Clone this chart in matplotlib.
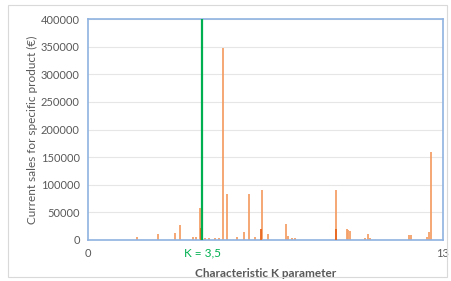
import matplotlib
matplotlib.use("Agg")
import matplotlib.pyplot as plt
from matplotlib.patches import Rectangle

plt.rcParams['font.family'] = ['Lato', 'DejaVu Sans']

# Data
k_values = [1.79, 2.56, 3.19, 3.37, 3.85, 3.96, 4.10, 4.29, 4.43, 4.65, 4.80,
            4.95, 5.09, 5.46, 5.71, 5.90, 6.12, 6.37, 6.59, 7.25, 7.33, 7.47,
            7.58, 9.08, 9.49, 9.52, 9.60, 10.15, 10.26, 10.33, 11.76, 11.83,
            12.42, 12.49, 12.56]
sales = [5000, 10000, 12000, 27000, 5000, 5000, 58000, 4000, 4000, 4000, 4000,
         347000, 83000, 5000, 14000, 84000, 6000, 90000, 10000, 29000, 8000, 4000,
         3000, 91000, 20000, 18000, 16000, 3000, 10000, 4000, 9000, 9000,
         6000, 14000, 159000]
dark_k = [4.14, 6.34, 9.10]
dark_sales = [22000, 20000, 20000]
k_threshold = 4.18
threshold_label = "K = 3,5"
y_ticks = [0, 50000, 100000, 150000, 200000, 250000, 300000, 350000, 400000]
x_ticks = [0, 13]

fig = plt.figure(figsize=(4.52, 2.81), dpi=100)
fig.patches.append(Rectangle((0.018, 0.015), 0.972, 0.968, transform=fig.transFigure,
                             fill=False, edgecolor='#D9D9D9', linewidth=0.8))
ax = fig.add_axes([0.1947, 0.146, 0.7853, 0.786])

ax.vlines(k_values, 0, sales, color='#F4A069', linewidth=1.3, zorder=2)
ax.vlines(dark_k, 0, dark_sales, color='#E8661E', linewidth=1.3, zorder=3)
ax.axvline(k_threshold, color='#00B050', linewidth=1.6, zorder=4)

ax.set_xlim(0, 13)
ax.set_ylim(0, 400000)
ax.set_yticks(y_ticks)
ax.set_yticklabels([str(v) for v in y_ticks])
ax.set_xticks(x_ticks)
ax.set_xticklabels([str(v) for v in x_ticks])
ax.tick_params(length=0, labelsize=8, colors='#595959', pad=6)
ax.grid(axis='y', color='#E6E6E6', linewidth=0.8, zorder=0)
ax.set_axisbelow(True)
for s in ax.spines.values():
    s.set_color('#8FB3E0')
    s.set_linewidth(1.2)

ax.set_ylabel("Current sales for specific product (€)", fontsize=8.5, color='#595959', labelpad=2)
ax.set_xlabel("Characteristic K parameter", fontsize=8.5, color='#595959',
              fontweight='bold', labelpad=6)
ax.text(k_threshold, -0.032, threshold_label, transform=ax.get_xaxis_transform(),
        ha='center', va='top', color='#00B050', fontsize=8.5)

fig.savefig("out.png", dpi=100)
